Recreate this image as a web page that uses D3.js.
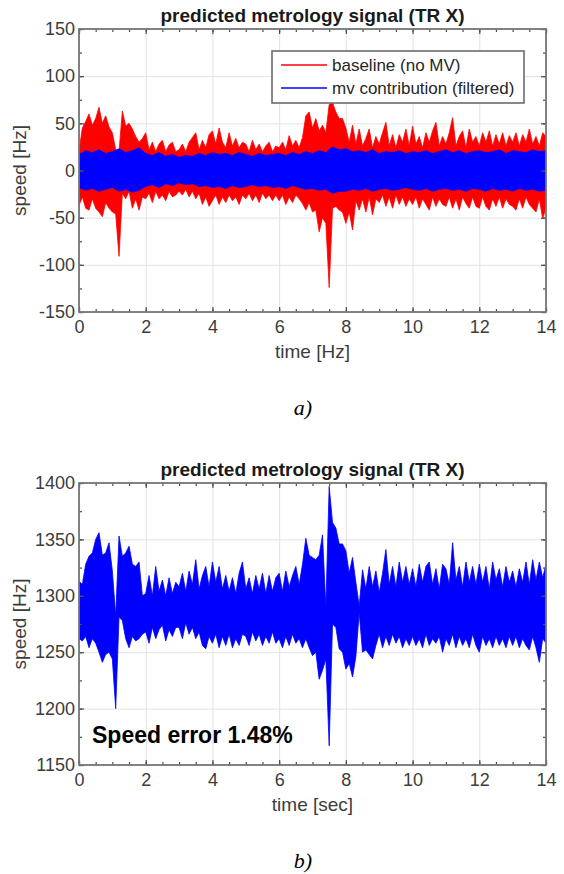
<!DOCTYPE html>
<html>
<head>
<meta charset="utf-8">
<script src="https://cdn.jsdelivr.net/npm/d3@7"></script>
<style>
body { margin: 0; background: #fff; }
svg { display: block; font-family: "Liberation Sans", Arial, Helvetica, sans-serif; }
</style>
</head>
<body>
<script>
// envelopes (max / min per 0.1 s)
var baselineHi = [
  20, 45, 52, 60, 48, 55, 67, 50, 58, 46,
  40, 22, 20, 63, 47, 50, 44, 36, 30, 34,
  40, 22, 30, 20, 28, 32, 20, 27, 30, 20,
  22, 28, 20, 30, 35, 40, 22, 32, 24, 38,
  42, 28, 45, 30, 24, 40, 26, 34, 24, 30,
  28, 20, 32, 22, 28, 20, 26, 30, 20, 26,
  24, 30, 22, 37, 26, 32, 24, 35, 58, 62,
  45, 55, 42, 48, 40, 70, 72, 62, 55, 55,
  45, 30, 48, 28, 44, 26, 34, 44, 24, 36,
  28, 40, 51, 26, 38, 24, 38, 30, 44, 26,
  47, 28, 36, 24, 40, 30, 42, 51, 26, 36,
  28, 40, 56, 26, 36, 42, 24, 44, 30, 36,
  26, 40, 30, 42, 26, 38, 28, 40, 26, 37,
  30, 40, 26, 38, 30, 44, 28, 36, 26, 40,
  36];
var baselineLo = [
  -37, -28, -40, -42, -30, -40, -44, -49, -34, -40,
  -44, -46, -91, -24, -30, -22, -40, -30, -42, -28,
  -30, -24, -34, -22, -30, -26, -32, -22, -28, -26,
  -22, -26, -20, -28, -22, -30, -24, -36, -28, -38,
  -32, -26, -36, -28, -34, -26, -32, -28, -36, -26,
  -30, -24, -32, -26, -34, -24, -30, -26, -32, -26,
  -32, -26, -36, -28, -34, -26, -30, -35, -42, -34,
  -44, -42, -65, -50, -56, -124, -40, -38, -42, -44,
  -56, -44, -63, -32, -42, -30, -44, -28, -47, -30,
  -34, -26, -38, -28, -40, -26, -36, -28, -38, -30,
  -36, -28, -40, -30, -36, -42, -28, -38, -30, -36,
  -38, -28, -40, -30, -42, -28, -35, -40, -28, -38,
  -40, -28, -38, -42, -30, -38, -28, -40, -30, -36,
  -38, -42, -30, -40, -28, -36, -40, -44, -30, -51,
  -40];

// filtered mv contribution, envelope per 0.2 s
var mvHi = [
  17, 21, 19, 22, 18, 20, 23, 19, 21, 24,
  18, 16, 19, 15, 17, 14, 16, 15, 18, 16,
  19, 17, 18, 16, 19, 17, 15, 18, 16, 17,
  18, 16, 19, 17, 20, 18, 21, 19, 25, 22,
  23, 20, 21, 19, 22, 18, 20, 19, 21, 18,
  20, 19, 21, 18, 20, 22, 19, 21, 18, 20,
  21, 19, 20, 22, 18, 21, 20, 19, 22, 20,
  21];
var mvLo = [
  -18, -21, -19, -22, -20, -18, -22, -20, -23, -21,
  -17, -15, -18, -14, -16, -13, -15, -14, -17, -16,
  -18, -17, -19, -16, -18, -17, -15, -17, -16, -18,
  -17, -19, -16, -18, -20, -19, -21, -20, -24, -22,
  -22, -20, -21, -19, -22, -20, -19, -21, -20, -18,
  -20, -21, -19, -22, -20, -19, -21, -20, -22, -19,
  -20, -22, -19, -21, -20, -22, -19, -21, -20, -22,
  -21];

// predicted speed, envelope per 0.1 s
var speedHi = [
  1313, 1310, 1328, 1335, 1338, 1350, 1356, 1336, 1338, 1347,
  1322, 1282, 1353, 1335, 1338, 1344, 1328, 1326, 1330, 1300,
  1302, 1318, 1300, 1326, 1304, 1314, 1300, 1316, 1302, 1312,
  1308, 1320, 1304, 1322, 1310, 1332, 1306, 1318, 1326, 1308,
  1330, 1312, 1326, 1306, 1318, 1304, 1316, 1302, 1320, 1330,
  1306, 1316, 1302, 1318, 1306, 1320, 1302, 1318, 1304, 1316,
  1320, 1304, 1322, 1308, 1318, 1326, 1310, 1328, 1351, 1336,
  1334, 1332, 1336, 1354, 1290, 1397, 1365, 1360, 1346, 1346,
  1340, 1320, 1334, 1312, 1291, 1323, 1306, 1326, 1308, 1322,
  1303, 1320, 1341, 1310, 1326, 1308, 1330, 1312, 1326, 1310,
  1324, 1308, 1328, 1312, 1326, 1330, 1310, 1324, 1306, 1328,
  1324, 1310, 1347, 1314, 1326, 1308, 1330, 1312, 1326, 1310,
  1328, 1312, 1326, 1306, 1330, 1314, 1324, 1308, 1326, 1312,
  1322, 1308, 1324, 1312, 1330, 1310, 1332, 1314, 1330, 1316,
  1328];
var speedLo = [
  1262, 1260, 1264, 1254, 1262, 1258, 1250, 1241, 1248, 1250,
  1244, 1200, 1281, 1278, 1262, 1254, 1264, 1260, 1262, 1266,
  1268, 1258, 1272, 1262, 1270, 1274, 1260, 1270, 1264, 1272,
  1272, 1262, 1276, 1266, 1272, 1262, 1268, 1256, 1253, 1264,
  1258, 1266, 1254, 1264, 1256, 1266, 1254, 1262, 1256, 1266,
  1264, 1256, 1268, 1260, 1266, 1256, 1264, 1258, 1268, 1258,
  1262, 1254, 1264, 1256, 1266, 1258, 1262, 1254, 1262, 1254,
  1247, 1250, 1226, 1234, 1244, 1167, 1275, 1272, 1253, 1250,
  1235, 1240, 1228, 1246, 1285, 1250, 1252, 1248, 1244, 1256,
  1266, 1254, 1264, 1256, 1266, 1258, 1264, 1254, 1262, 1256,
  1264, 1256, 1262, 1254, 1266, 1256, 1262, 1258, 1264, 1250,
  1262, 1256, 1266, 1254, 1264, 1256, 1262, 1254, 1266, 1256,
  1250, 1264, 1256, 1262, 1254, 1264, 1256, 1262, 1254, 1264,
  1256, 1264, 1254, 1262, 1256, 1252, 1264, 1254, 1241, 1262,
  1258];

var xTicks = [0, 2, 4, 6, 8, 10, 12, 14];
var yTicksA = [-150, -100, -50, 0, 50, 100, 150];
var yTicksB = [1150, 1200, 1250, 1300, 1350, 1400];
var legendLabels = ["baseline (no MV)", "mv contribution (filtered)"];

var tFine = baselineHi.map(function(d, i) { return i / 10; });
var tMv = mvHi.map(function(d, i) { return i / 5; });

var width = 564, height = 874;
var svg = d3.select("body").append("svg")
    .attr("width", width)
    .attr("height", height);

var x = d3.scaleLinear().domain([0, 14]).range([79, 546]);
var xMinor = d3.range(0, 14.01, 0.5);
var plain = function(d) { return String(d); };

function drawFrame(y, top, bottom, yTicks, yStep, title, xlabel, id) {
  var left = x.range()[0], right = x.range()[1];
  var yMinor = d3.range(yTicks[0], yTicks[yTicks.length - 1] + 1, yStep / 2);
  var g = svg.append("g");

  // grid
  g.append("g")
      .attr("transform", "translate(0," + bottom + ")")
      .call(d3.axisBottom(x).tickValues(xTicks).tickSize(-(bottom - top)).tickFormat(""))
      .call(function(s) { s.select(".domain").remove(); s.selectAll("line").attr("stroke", "#e2e2e2"); });
  g.append("g")
      .attr("transform", "translate(" + left + ",0)")
      .call(d3.axisLeft(y).tickValues(yTicks).tickSize(-(right - left)).tickFormat(""))
      .call(function(s) { s.select(".domain").remove(); s.selectAll("line").attr("stroke", "#e2e2e2"); });

  svg.append("clipPath").attr("id", id)
    .append("rect").attr("x", left).attr("y", top)
      .attr("width", right - left).attr("height", bottom - top);

  return { left: left, right: right, top: top, bottom: bottom, y: y,
           yMinor: yMinor, yTicks: yTicks, title: title, xlabel: xlabel };
}

function drawAxes(p) {
  var g = svg.append("g");
  function style(s) {
    s.select(".domain").remove();
    s.selectAll("line").attr("stroke", "#4d4d4d").attr("stroke-width", 1.2);
    s.selectAll("text").attr("fill", "#3c3c3c").style("font-size", "18px")
      .style("font-family", "'Liberation Sans', Arial, sans-serif");
  }
  // bottom / left with labels
  g.append("g").attr("transform", "translate(0," + p.bottom + ")")
      .call(d3.axisBottom(x).tickValues(xTicks).tickSize(-5).tickPadding(8).tickFormat(plain)).call(style);
  g.append("g").attr("transform", "translate(0," + p.bottom + ")")
      .call(d3.axisBottom(x).tickValues(xMinor).tickSize(-3).tickFormat("")).call(style);
  g.append("g").attr("transform", "translate(" + p.left + ",0)")
      .call(d3.axisLeft(p.y).tickValues(p.yTicks).tickSize(-5).tickPadding(4).tickFormat(plain)).call(style);
  g.append("g").attr("transform", "translate(" + p.left + ",0)")
      .call(d3.axisLeft(p.y).tickValues(p.yMinor).tickSize(-3).tickFormat("")).call(style);
  // top / right, ticks only
  g.append("g").attr("transform", "translate(0," + p.top + ")")
      .call(d3.axisTop(x).tickValues(xTicks).tickSize(-5).tickFormat("")).call(style);
  g.append("g").attr("transform", "translate(0," + p.top + ")")
      .call(d3.axisTop(x).tickValues(xMinor).tickSize(-3).tickFormat("")).call(style);
  g.append("g").attr("transform", "translate(" + p.right + ",0)")
      .call(d3.axisRight(p.y).tickValues(p.yTicks).tickSize(-5).tickFormat("")).call(style);
  g.append("g").attr("transform", "translate(" + p.right + ",0)")
      .call(d3.axisRight(p.y).tickValues(p.yMinor).tickSize(-3).tickFormat("")).call(style);

  g.append("rect")
      .attr("x", p.left).attr("y", p.top)
      .attr("width", p.right - p.left).attr("height", p.bottom - p.top)
      .attr("fill", "none").attr("stroke", "#767676").attr("stroke-width", 1.8);

  g.append("text")
      .attr("x", (p.left + p.right) / 2).attr("y", p.top - 7)
      .attr("text-anchor", "middle")
      .style("font-size", "19px").style("font-weight", "bold").attr("fill", "#1a1a1a")
      .text(p.title);
  g.append("text")
      .attr("x", (p.left + p.right) / 2).attr("y", p.bottom + 46)
      .attr("text-anchor", "middle")
      .style("font-size", "19px").attr("fill", "#3c3c3c")
      .text(p.xlabel);
  g.append("text")
      .attr("transform", "translate(26," + (p.top + p.bottom) / 2 + ") rotate(-90)")
      .attr("text-anchor", "middle")
      .style("font-size", "19px").attr("fill", "#3c3c3c")
      .text("speed [Hz]");
}

function envelope(t, hi, lo, y, color, clip) {
  var data = t.map(function(d, i) { return { t: d, hi: hi[i], lo: lo[i] }; });
  var area = d3.area()
      .x(function(d) { return x(d.t); })
      .y0(function(d) { return y(d.lo); })
      .y1(function(d) { return y(d.hi); });
  svg.append("path")
      .datum(data)
      .attr("clip-path", "url(#" + clip + ")")
      .attr("d", area)
      .attr("fill", color)
      .attr("stroke", color)
      .attr("stroke-width", 0.8)
      .attr("stroke-linejoin", "round");
}

// ---- panel a
var yA = d3.scaleLinear().domain([-150, 150]).range([312, 29]);
var pA = drawFrame(yA, 29, 312, yTicksA, 50, "predicted metrology signal (TR X)", "time [Hz]", "clipA");
envelope(tFine, baselineHi, baselineLo, yA, "#ff0000", "clipA");
envelope(tMv, mvHi, mvLo, yA, "#0000ff", "clipA");
drawAxes(pA);

// legend
var leg = svg.append("g");
leg.append("rect")
    .attr("x", 272).attr("y", 51).attr("width", 252).attr("height", 52)
    .attr("fill", "#fff").attr("stroke", "#6b6b6b").attr("stroke-width", 1.6);
leg.selectAll(".item")
    .data(legendLabels)
  .enter().append("g")
    .attr("class", "item")
    .attr("transform", function(d, i) { return "translate(281," + (65 + i * 23) + ")"; })
    .each(function(d, i) {
      var it = d3.select(this);
      it.append("line").attr("x1", 0).attr("x2", 46)
        .attr("stroke", i === 0 ? "#ff0000" : "#0000ff").attr("stroke-width", 1.5);
      it.append("text").attr("x", 51).attr("dy", "0.35em")
        .style("font-size", "17px").attr("fill", "#262626").text(d);
    });

svg.append("text")
    .attr("x", 303).attr("y", 415)
    .attr("text-anchor", "middle")
    .style("font-family", "'Liberation Serif', 'Times New Roman', serif")
    .style("font-style", "italic").style("font-size", "22px")
    .text("a)");

// ---- panel b
var yB = d3.scaleLinear().domain([1150, 1400]).range([765, 483]);
var pB = drawFrame(yB, 483, 765, yTicksB, 50, "predicted metrology signal (TR X)", "time [sec]", "clipB");
envelope(tFine, speedHi, speedLo, yB, "#0000ff", "clipB");
drawAxes(pB);

svg.append("text")
    .attr("x", 92).attr("y", 743)
    .style("font-size", "23px").style("font-weight", "bold").attr("fill", "#000")
    .text("Speed error 1.48%");

svg.append("text")
    .attr("x", 303).attr("y", 868)
    .attr("text-anchor", "middle")
    .style("font-family", "'Liberation Serif', 'Times New Roman', serif")
    .style("font-style", "italic").style("font-size", "22px")
    .text("b)");
</script>
</body>
</html>
